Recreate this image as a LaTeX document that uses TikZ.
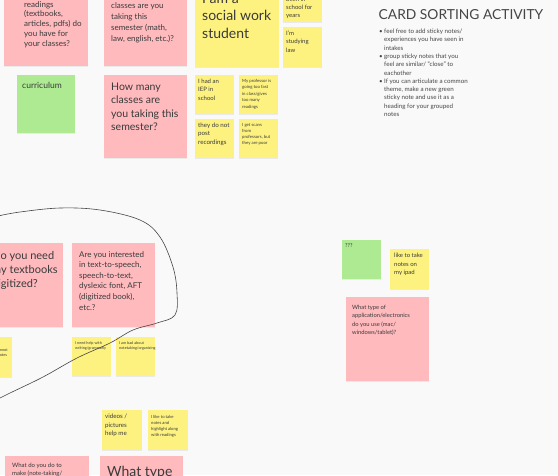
\documentclass[tikz,border=0pt]{standalone}
\usepackage{fontspec}
\setmainfont{Lato}
\usetikzlibrary{shadows}

\definecolor{board}{RGB}{249,249,249}
\definecolor{notepink}{RGB}{255,186,190}
\definecolor{noteyellow}{RGB}{253,242,128}
\definecolor{notegreen}{RGB}{173,234,146}
\definecolor{ink}{RGB}{58,58,58}
\definecolor{titlegray}{RGB}{70,70,70}
\definecolor{pen}{RGB}{70,70,70}

\newcommand{\notefont}[2]{\fontsize{#1}{#2}\selectfont}
% lines of a note, baseline on the first line
\newcommand{\notelines}[1]{\begin{tabular}[t]{@{}l@{}}#1\end{tabular}}

\tikzset{
  sticky/.style={anchor=north west, inner sep=0pt,
    drop shadow={opacity=0.12, shadow xshift=0pt, shadow yshift=-1pt}},
  pinknote/.style={sticky, fill=notepink},
  yellownote/.style={sticky, fill=noteyellow},
  greennote/.style={sticky, fill=notegreen},
  notetext/.style={anchor=base west, inner sep=0pt, text=ink},
}

\begin{document}
\begin{tikzpicture}[x=1pt, y=-1pt]
    \useasboundingbox (0,0) rectangle (558,475);
    \clip (0,0) rectangle (558,475);
    \fill [board] (0,0) rectangle (558,475);

    % top row
    \node (read) at (4,-30) [pinknote, minimum width=84, minimum height=96] {};
    \node (readt) at (24,7) [notetext, font=\notefont{8}{9.8}] {\notelines{readings\\(textbooks,\\articles, pdfs) do\\you have for\\your classes?}};
    \node (subj) at (104,-30) [pinknote, minimum width=83, minimum height=96] {};
    \node (subjt) at (111,8) [notetext, font=\notefont{8}{11}] {\notelines{classes are you\\taking this\\semester (math,\\law, english, etc.)?}};
    \node (social) at (195,-30) [yellownote, minimum width=84, minimum height=97] {};
    \node (socialt) at (202,3) [notetext, font=\notefont{14}{17.5}] {\notelines{I am a\\social work\\student}};
    \node (years) at (283,-20) [yellownote, minimum width=39, minimum height=42] {};
    \node (yearst) at (286,1.5) [notetext, font=\notefont{6}{8}] {\notelines{been in\\school for\\years}};
    \node (law) at (283,27) [yellownote, minimum width=39, minimum height=40] {};
    \node (lawt) at (286,35.5) [notetext, font=\notefont{6}{8.3}] {\notelines{I'm\\studying\\law}};

    % second row
    \node (curr) at (17,75) [greennote, minimum width=58, minimum height=58] {};
    \node (currt) at (22,88) [notetext, font=\notefont{8.5}{10}] {curriculum};
    \node (many) at (104,75) [pinknote, minimum width=83, minimum height=83] {};
    \node (manyt) at (111,90.6) [notetext, font=\notefont{10.5}{13.3}] {\notelines{How many\\classes are\\you taking this\\semester?}};
    \node (iep) at (195,75) [yellownote, minimum width=39, minimum height=39] {};
    \node (iept) at (198,83.5) [notetext, font=\notefont{6}{8.3}] {\notelines{I had an\\IEP in\\school}};
    \node (fast) at (239,75) [yellownote, minimum width=39, minimum height=39] {};
    \node (fastt) at (242,82) [notetext, font=\notefont{4.3}{6.5}] {\notelines{My professor is\\going too fast\\in class/gives\\too many\\readings}};
    \node (rec) at (195,119) [yellownote, minimum width=39, minimum height=39] {};
    \node (rect) at (198,127.5) [notetext, font=\notefont{6.2}{8.3}] {\notelines{they do not\\post\\recordings}};
    \node (scan) at (239,119) [yellownote, minimum width=39, minimum height=39] {};
    \node (scant) at (242,126) [notetext, font=\notefont{4.3}{6.3}] {\notelines{I get scans\\from\\professors, but\\they are poor}};

    % instructions
    \node (title) at (461,19.4) [anchor=base, inner sep=0pt, text=titlegray, font=\notefont{13.8}{16}] {CARD SORTING ACTIVITY};
    \node (rules) at (384,33.5) [notetext, text=titlegray, font=\notefont{6.2}{8.3}] {\notelines{feel free to add sticky notes/\\experiences you have seen in\\intakes\\group sticky notes that you\\feel are similar/ ``close'' to\\eachother\\If you can articulate a common\\theme, make a new green\\sticky note and use it as a\\heading for your grouped\\notes}};
    \node (b1) at (379,33.5) [notetext, text=titlegray, font=\notefont{6.2}{8.3}] {•};
    \node (b2) at (379,58.4) [notetext, text=titlegray, font=\notefont{6.2}{8.3}] {•};
    \node (b3) at (379,83.3) [notetext, text=titlegray, font=\notefont{6.2}{8.3}] {•};

    % middle group
    \node (digi) at (-20,243) [pinknote, minimum width=83, minimum height=84] {};
    \node (digit) at (-8,259.8) [notetext, font=\notefont{11}{14}] {\notelines{Do you need\\my textbooks\\digitized?}};
    \node (tts) at (72,243) [pinknote, minimum width=83, minimum height=84] {};
    \node (ttst) at (79,257) [notetext, font=\notefont{8}{10.6}] {\notelines{Are you interested\\in text-to-speech,\\speech-to-text,\\dyslexic font, AFT\\(digitized book),\\etc.?}};
    \node (cannot) at (-28,337) [yellownote, minimum width=40, minimum height=40] {};
    \node (cannott) at (-25,351) [notetext, font=\notefont{3.8}{5}] {\notelines{I sometimes cannot\\keep up with notes}};
    \node (gram) at (72,337) [yellownote, minimum width=39, minimum height=39] {};
    \node (gramt) at (75,344) [notetext, font=\notefont{3.8}{5.3}] {\notelines{I need help with\\writing/grammarly}};
    \node (organ) at (116,337) [yellownote, minimum width=39, minimum height=39] {};
    \node (organt) at (119,344) [notetext, font=\notefont{3.8}{5.3}] {\notelines{I am bad about\\notetaking/organizing}};

    % right group
    \node (what) at (342,240) [greennote, minimum width=39, minimum height=39] {};
    \node (whatt) at (345,247.5) [notetext, font=\notefont{5.5}{7}] {???};
    \node (ipad) at (390,249) [yellownote, minimum width=39, minimum height=40] {};
    \node (ipadt) at (394,257.5) [notetext, font=\notefont{6}{8.5}] {\notelines{like to take\\notes on\\my ipad}};
    \node (app) at (346,297) [pinknote, minimum width=83, minimum height=84] {};
    \node (appt) at (352,309.5) [notetext, font=\notefont{5.8}{8.3}] {\notelines{What type of\\application/electronics\\do you use (mac/\\windows/tablet)?}};

    % bottom
    \node (video) at (102,410) [yellownote, minimum width=40, minimum height=40] {};
    \node (videot) at (105,418.5) [notetext, font=\notefont{6.2}{8.5}] {\notelines{videos /\\pictures\\help me}};
    \node (hilite) at (148,410) [yellownote, minimum width=40, minimum height=40] {};
    \node (hilitet) at (151,418) [notetext, font=\notefont{4.2}{6}] {\notelines{I like to take\\notes and\\highlight along\\with readings}};
    \node (make) at (5,456) [pinknote, minimum width=84, minimum height=60] {};
    \node (maket) at (12,467.5) [notetext, font=\notefont{6}{8}] {\notelines{What do you do to\\make (note-taking/}};
    \node (type) at (100,456) [pinknote, minimum width=83, minimum height=60] {};
    \node (typet) at (107,476) [notetext, font=\notefont{14}{18}] {What type};

    % lasso
    \draw [pen, line width=0.6pt, line cap=round] plot [smooth, tension=0.6] coordinates {(-2,216) (20,212) (60,208) (100,210) (140,220) (160,237) (173,267) (177,293) (175,315) (157,323) (133,330) (110,343) (77,358) (43,377) (10,393) (-2,399)};
\end{tikzpicture}
\end{document}
